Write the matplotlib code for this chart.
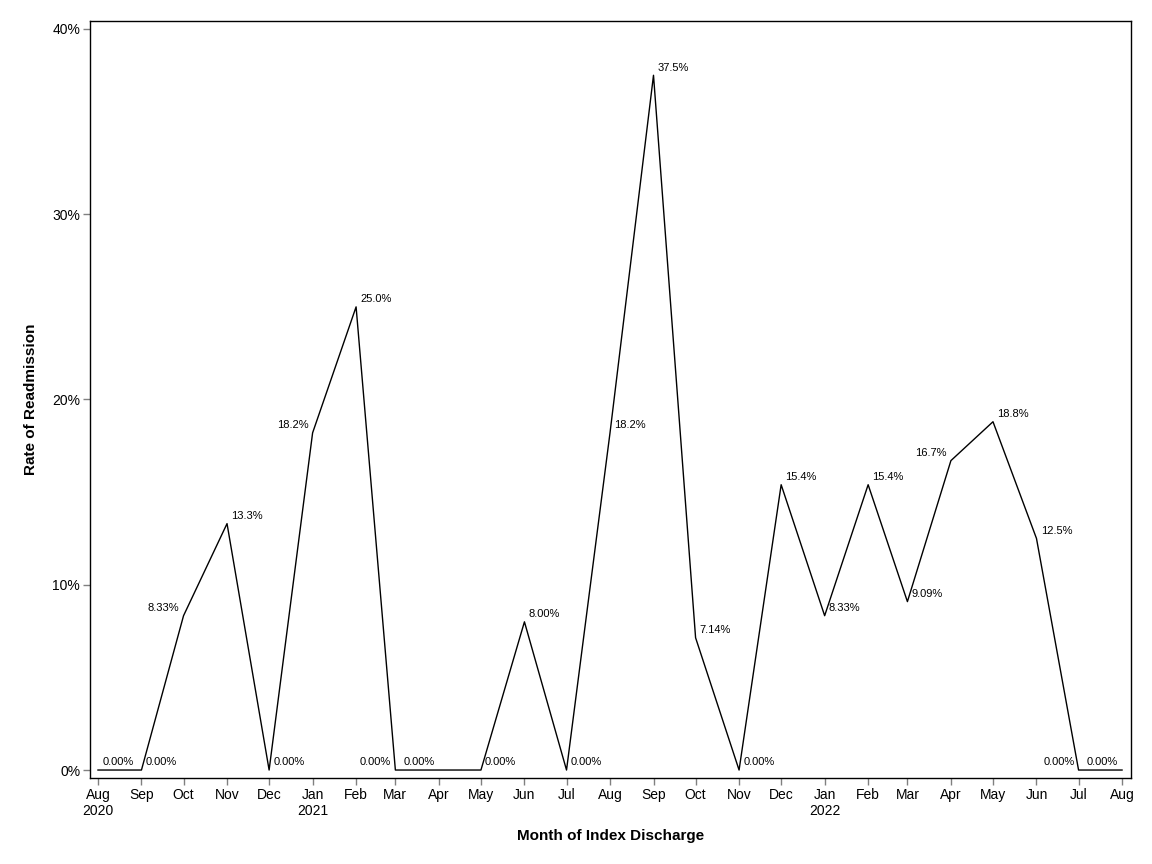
import numpy as np
import matplotlib.pyplot as plt
import matplotlib.dates as mdates
from matplotlib.ticker import FuncFormatter
import datetime as dt

plt.rcParams['font.family'] = ['Liberation Sans', 'DejaVu Sans']

# monthly readmission rate (%)
months = ['2020-08', '2020-09', '2020-10', '2020-11', '2020-12',
          '2021-01', '2021-02', '2021-03', '2021-04', '2021-05', '2021-06',
          '2021-07', '2021-08', '2021-09', '2021-10', '2021-11', '2021-12',
          '2022-01', '2022-02', '2022-03', '2022-04', '2022-05', '2022-06',
          '2022-07', '2022-08']
rate = [0.0, 0.0, 8.33, 13.3, 0.0,
        18.2, 25.0, 0.0, 0.0, 0.0, 8.00,
        0.0, 18.2, 37.5, 7.14, 0.0, 15.4,
        8.33, 15.4, 9.09, 16.7, 18.8, 12.5,
        0.0, 0.0]
labels = ['0.00%', '0.00%', '8.33%', '13.3%', '0.00%',
          '18.2%', '25.0%', '0.00%', '0.00%', '0.00%', '8.00%',
          '0.00%', '18.2%', '37.5%', '7.14%', '0.00%', '15.4%',
          '8.33%', '15.4%', '9.09%', '16.7%', '18.8%', '12.5%',
          '0.00%', '0.00%']
# which side the data label sits on
side = ['R', 'R', 'L', 'R', 'R',
        'L', 'R', 'L', 'L', 'R', 'R',
        'R', 'R', 'R', 'R', 'R', 'R',
        'R', 'R', 'R', 'L', 'R', 'R',
        'L', 'L']

dates = [dt.datetime.strptime(m, '%Y-%m') for m in months]

fig = plt.figure(figsize=(11.52, 8.64), dpi=100)
ax = fig.add_axes([0.0781, 0.0995, 0.9037, 0.8762])

ax.plot(dates, rate, color='black', lw=1.0)

for d, v, lab, s in zip(dates, rate, labels, side):
    if s == 'R':
        ax.annotate(lab, (d, v), xytext=(3, 2), textcoords='offset points',
                    ha='left', va='bottom', fontsize=8)
    else:
        ax.annotate(lab, (d, v), xytext=(-3, 2), textcoords='offset points',
                    ha='right', va='bottom', fontsize=8)

ax.set_xlim(dates[0] - dt.timedelta(days=5.7), dates[-1] + dt.timedelta(days=6.4))
ax.set_ylim(-0.432, 40.43)

ax.set_yticks([0, 10, 20, 30, 40])
ax.yaxis.set_major_formatter(FuncFormatter(lambda v, p: '{:.0f}%'.format(v)))

ax.set_xticks(dates)
xtl = []
for i, d in enumerate(dates):
    if i == 0 or (d.month == 1):
        xtl.append(d.strftime('%b') + '\n' + d.strftime('%Y'))
    else:
        xtl.append(d.strftime('%b'))
ax.set_xticklabels(xtl)

ax.tick_params(axis='both', direction='out', length=5, width=1,
               color='#808080', labelsize=10, labelcolor='black', pad=2)

for sp in ax.spines.values():
    sp.set_color('black')
    sp.set_linewidth(1.0)

ax.set_xlabel('Month of Index Discharge', fontsize=11, fontweight='bold', labelpad=8)
ax.set_ylabel('Rate of Readmission', fontsize=11, fontweight='bold', labelpad=10)

plt.savefig('out.png', dpi=100)
